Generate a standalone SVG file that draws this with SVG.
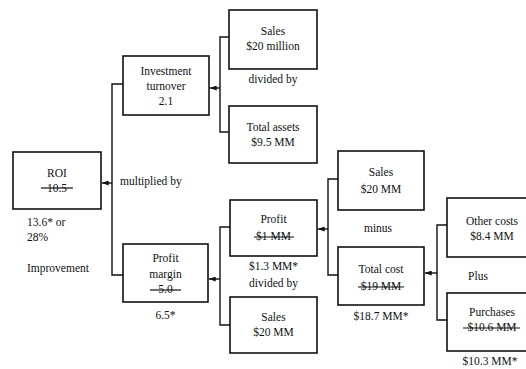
<svg xmlns="http://www.w3.org/2000/svg" width="526" height="369" viewBox="0 0 526 369">
<defs>
<style>
.box{fill:#fff;stroke:#111;stroke-width:1.6}
.ln{fill:none;stroke:#111;stroke-width:1.4}
.st{stroke:#111;stroke-width:1.2}
text{font-family:"Liberation Serif","Times New Roman",serif;font-size:11.5px;fill:#111}
.c{text-anchor:middle}
</style>
<marker id="ah" viewBox="0 0 8 6" refX="8" refY="3" markerWidth="7" markerHeight="5" orient="auto" markerUnits="userSpaceOnUse">
<path d="M0,0 L8,3 L0,6 Z" fill="#111"/>
</marker>
</defs>
<rect width="526" height="369" fill="#fff"/>
<g id="connectors">
<path class="ln" d="M123,84 H112 V275 H123"/>
<line class="ln" x1="112" y1="183" x2="102" y2="183" marker-end="url(#ah)"/>
<path class="ln" d="M229,37 H220 V132 H229"/>
<line class="ln" x1="220" y1="88" x2="210" y2="88" marker-end="url(#ah)"/>
<path class="ln" d="M230,227 H220 V325 H230"/>
<line class="ln" x1="220" y1="279" x2="209" y2="279" marker-end="url(#ah)"/>
<path class="ln" d="M338,179 H328 V275 H338"/>
<line class="ln" x1="328" y1="229" x2="318" y2="229" marker-end="url(#ah)"/>
<path class="ln" d="M447,225 H437 V320 H447"/>
<line class="ln" x1="437" y1="273" x2="425" y2="273" marker-end="url(#ah)"/>
</g>
<g id="roi">
<rect class="box" x="13" y="152" width="88" height="57"/>
<text class="c" x="57" y="177">ROI</text>
<text class="c" x="57" y="192">10.5</text>
<line class="st" x1="41" y1="188" x2="73" y2="188"/>
<text x="27" y="226">13.6* or</text>
<text x="27" y="241">28%</text>
<text x="27" y="272">Improvement</text>
</g>
<text x="120" y="185">multiplied by</text>
<g id="investment-turnover">
<rect class="box" x="123" y="56" width="86" height="59"/>
<text class="c" x="166" y="75">Investment</text>
<text class="c" x="166" y="90">turnover</text>
<text class="c" x="166" y="105">2.1</text>
</g>
<g id="sales-million">
<rect class="box" x="229" y="10" width="88" height="59"/>
<text class="c" x="273" y="35">Sales</text>
<text class="c" x="273" y="50">$20 million</text>
</g>
<text class="c" x="273" y="83">divided by</text>
<g id="total-assets">
<rect class="box" x="229" y="106" width="88" height="57"/>
<text class="c" x="273" y="131">Total assets</text>
<text class="c" x="273" y="146">$9.5 MM</text>
</g>
<g id="profit-margin">
<rect class="box" x="123" y="244" width="85" height="58"/>
<text class="c" x="165.5" y="262">Profit</text>
<text class="c" x="165.5" y="278">margin</text>
<text class="c" x="165.5" y="293">5.0</text>
<line class="st" x1="150" y1="290" x2="181" y2="290"/>
<text class="c" x="165.5" y="319">6.5*</text>
</g>
<g id="profit">
<rect class="box" x="230" y="200" width="87" height="56"/>
<text class="c" x="273.5" y="223">Profit</text>
<text class="c" x="273.5" y="240">$1 MM</text>
<line class="st" x1="254" y1="237" x2="294" y2="237"/>
<text class="c" x="273.5" y="270">$1.3 MM*</text>
<text class="c" x="273.5" y="287">divided by</text>
</g>
<g id="sales-bottom">
<rect class="box" x="230" y="297" width="87" height="56"/>
<text class="c" x="273.5" y="321">Sales</text>
<text class="c" x="273.5" y="336">$20 MM</text>
</g>
<g id="sales-right">
<rect class="box" x="338" y="151" width="86" height="59"/>
<text class="c" x="381" y="176">Sales</text>
<text class="c" x="381" y="193">$20 MM</text>
</g>
<text class="c" x="378" y="232">minus</text>
<g id="total-cost">
<rect class="box" x="338" y="247" width="86" height="58"/>
<text class="c" x="381" y="273">Total cost</text>
<text class="c" x="381" y="290">$19 MM</text>
<line class="st" x1="358" y1="287" x2="404" y2="287"/>
<text class="c" x="381" y="320">$18.7 MM*</text>
</g>
<g id="other-costs">
<rect class="box" x="447" y="198" width="90" height="59"/>
<text class="c" x="492" y="225">Other costs</text>
<text class="c" x="492" y="240">$8.4 MM</text>
</g>
<text class="c" x="478" y="280">Plus</text>
<g id="purchases">
<rect class="box" x="447" y="293" width="90" height="58"/>
<text class="c" x="492" y="316">Purchases</text>
<text class="c" x="492" y="331">$10.6 MM</text>
<line class="st" x1="463" y1="328" x2="520" y2="328"/>
<text class="c" x="490" y="365">$10.3 MM*</text>
</g>
</svg>
